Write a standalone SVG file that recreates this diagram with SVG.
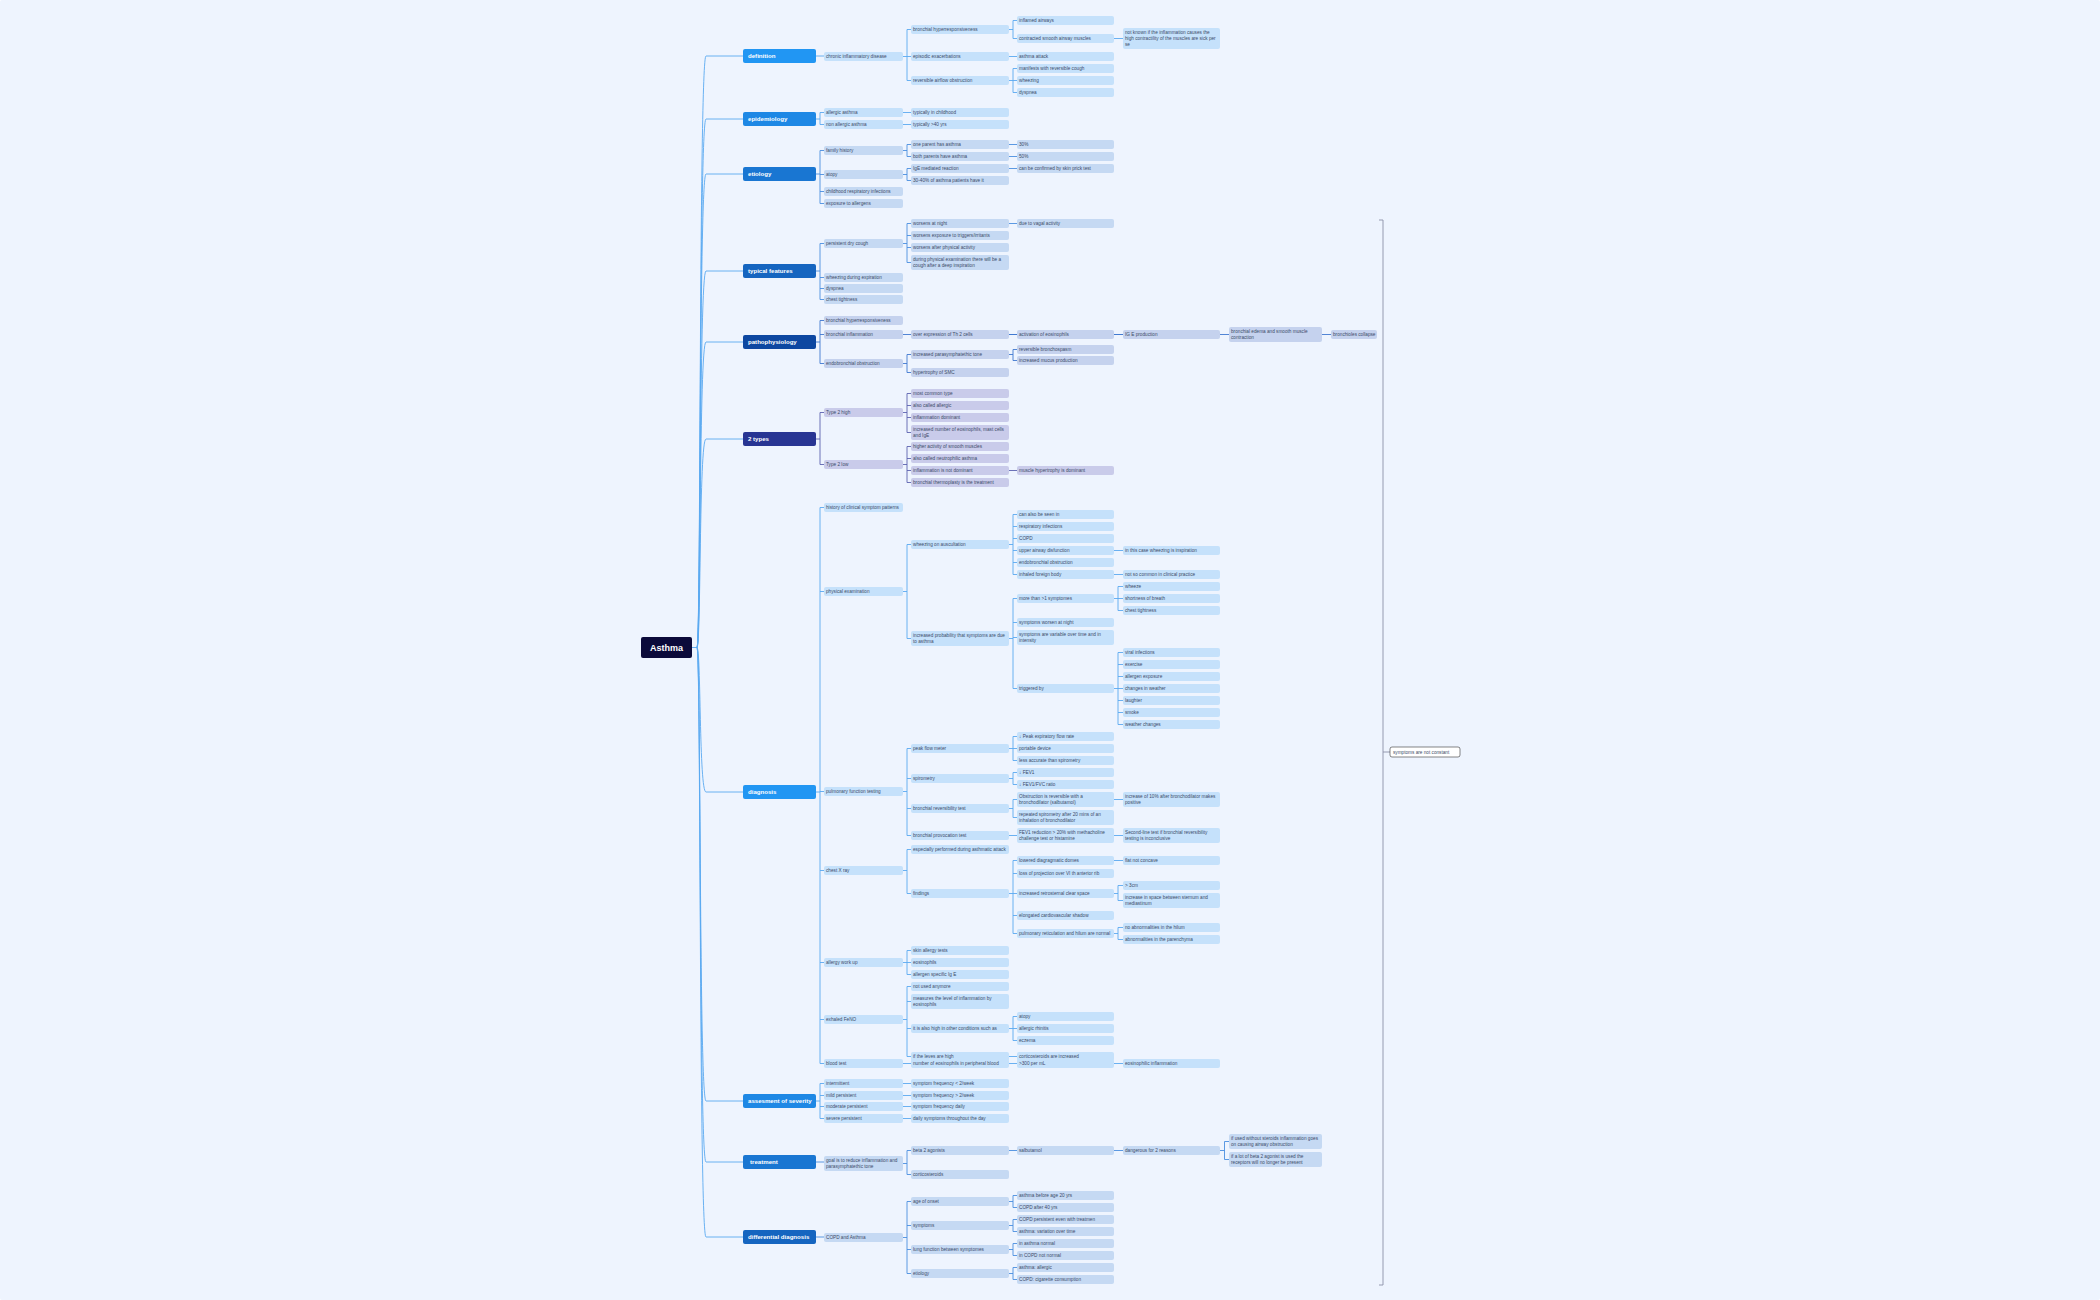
<svg xmlns="http://www.w3.org/2000/svg" width="2100" height="1300" viewBox="0 0 2100 1300">
<style>
text{font-family:"Liberation Sans",Arial,sans-serif;font-size:4.7px;fill:#3b4a68}
.h text,text.h{font-size:6.1px;font-weight:bold;fill:#fff}
rect{rx:2px}
.a{fill:#c5e1fb}.b{fill:#c5d9f3}.c{fill:#c5d2ee}.d{fill:#c9cbea}
path{fill:none;stroke-width:0.9}
.sa{stroke:#5aa9f0}.sb{stroke:#4a8ee0}.sc{stroke:#3f78d0}.sd{stroke:#5c63b0}
</style>
<rect width="2100" height="1300" fill="#eef4fe"/>
<g id="connectors">
<path class="sa" d="M692 647.5H697C701 647.5 699 56 706 56H743M697 647.5C701 647.5 699 119 706 119H743M697 647.5C701 647.5 699 174 706 174H743M697 647.5C701 647.5 699 271 706 271H743M697 647.5C701 647.5 699 342 706 342H743M697 647.5C701 647.5 699 439 706 439H743M697 647.5C701 647.5 699 792 706 792H743M697 647.5C701 647.5 699 1101 706 1101H743M697 647.5C701 647.5 699 1162 706 1162H743M697 647.5C701 647.5 699 1237 706 1237H743"/>
<path class="sa" d="M816 56H824M903 56.5H907M907 29.5V80.5M907 29.5H911M907 56.5H911M907 80.5H911M1009 29.5H1013M1013 20.5V38.5M1013 20.5H1017M1013 38.5H1017M1114 38.5H1123M1009 56.5H1017M1009 80.5H1013M1013 68.5V92.5M1013 68.5H1017M1013 80.5H1017M1013 92.5H1017"/>
<path class="sa" d="M816 119H820M820 112.5V124.5M820 112.5H824M820 124.5H824M903 112.5H911M903 124.5H911"/>
<path class="sb" d="M816 174H820M820 150.5V203.5M820 150.5H824M820 174.5H824M820 191.5H824M820 203.5H824M903 150.5H907M907 144.5V156.5M907 144.5H911M907 156.5H911M1009 144.5H1017M1009 156.5H1017M903 174.5H907M907 168.5V180.5M907 168.5H911M907 180.5H911M1009 168.5H1017"/>
<path class="sb" d="M816 271H820M820 243.5V299.5M820 243.5H824M820 277.5H824M820 288.5H824M820 299.5H824M903 243.5H907M907 223.5V262.5M907 223.5H911M907 235.5H911M907 247.5H911M907 262.5H911M1009 223.5H1017"/>
<path class="sc" d="M816 342H820M820 320.5V363.5M820 320.5H824M820 334.5H824M820 363.5H824M903 334.5H1017M1009 334.5H1123M1114 334.5H1229M1322 334.5H1331M903 363.5H907M907 354.5V372.5M907 354.5H911M907 372.5H911M1009 354.5H1013M1013 349.5V360.5M1013 349.5H1017M1013 360.5H1017"/>
<path class="sd" d="M816 439H820M820 412.5V464.5M820 412.5H824M820 464.5H824M903 412.5H907M907 393.5V432.5M907 393.5H911M907 405.5H911M907 417.5H911M907 432.5H911M903 464.5H907M907 446.5V482.5M907 446.5H911M907 458.5H911M907 470.5H911M907 482.5H911M1009 470.5H1017"/>
<path class="sa" d="M816 792H820M820 507.5V1063.5M820 507.5H824M820 591.5H824M820 791.5H824M820 870.5H824M820 962.5H824M820 1019.5H824M820 1063.5H824
M903 591.5H907M907 544.5V638.5M907 544.5H911M907 638.5H911M1009 544.5H1013M1013 514.5V574.5M1013 514.5H1017M1013 526.5H1017M1013 538.5H1017M1013 550.5H1017M1013 562.5H1017M1013 574.5H1017M1114 550.5H1123M1114 574.5H1123
M1009 638.5H1013M1013 598.5V688.5M1013 598.5H1017M1013 622.5H1017M1013 637.5H1017M1013 688.5H1017M1114 598.5H1118M1118 586.5V610.5M1118 586.5H1123M1118 598.5H1123M1118 610.5H1123M1114 688.5H1118M1118 652.5V724.5M1118 652.5H1123M1118 664.5H1123M1118 676.5H1123M1118 688.5H1123M1118 700.5H1123M1118 712.5H1123M1118 724.5H1123
M903 791.5H907M907 748.5V835.5M907 748.5H911M907 778.5H911M907 808.5H911M907 835.5H911M1009 748.5H1013M1013 736.5V760.5M1013 736.5H1017M1013 748.5H1017M1013 760.5H1017M1009 778.5H1013M1013 772.5V784.5M1013 772.5H1017M1013 784.5H1017M1009 808.5H1013M1013 799.5V817.5M1013 799.5H1017M1013 817.5H1017M1114 799.5H1123M1009 835.5H1017M1114 835.5H1123
M903 870.5H907M907 849.5V893.5M907 849.5H911M907 893.5H911M1009 893.5H1013M1013 860.5V933.5M1013 860.5H1017M1013 873.5H1017M1013 893.5H1017M1013 915.5H1017M1013 933.5H1017M1114 860.5H1123M1114 893.5H1118M1118 885.5V900.5M1118 885.5H1123M1118 900.5H1123M1114 933.5H1118M1118 927.5V939.5M1118 927.5H1123M1118 939.5H1123
M903 962.5H907M907 950.5V974.5M907 950.5H911M907 962.5H911M907 974.5H911
M903 1019.5H907M907 986.5V1056.5M907 986.5H911M907 1001.5H911M907 1028.5H911M907 1056.5H911M1009 1028.5H1013M1013 1016.5V1040.5M1013 1016.5H1017M1013 1028.5H1017M1013 1040.5H1017M1009 1056.5H1017
M903 1063.5H1123"/>
<path class="sa" d="M816 1101H820M820 1083.5V1118.5M820 1083.5H824M820 1095.5H824M820 1106.5H824M820 1118.5H824M903 1083.5H911M903 1095.5H911M903 1106.5H911M903 1118.5H911"/>
<path class="sb" d="M816 1162H824M903 1163.5H907M907 1150.5V1174.5M907 1150.5H911M907 1174.5H911M1009 1150.5H1123M1220 1150.5H1224.5M1224.5 1141.5V1159.5M1224.5 1141.5H1229M1224.5 1159.5H1229"/>
<path class="sb" d="M816 1237H824M903 1237.5H907M907 1201.5V1273.5M907 1201.5H911M907 1225.5H911M907 1249.5H911M907 1273.5H911M1009 1201.5H1013M1013 1195.5V1207.5M1013 1195.5H1017M1013 1207.5H1017M1009 1225.5H1013M1013 1219.5V1231.5M1013 1219.5H1017M1013 1231.5H1017M1009 1249.5H1013M1013 1243.5V1255.5M1013 1243.5H1017M1013 1255.5H1017M1009 1273.5H1013M1013 1267.5V1279.5M1013 1267.5H1017M1013 1279.5H1017"/>
<path stroke="#8a90a8" stroke-width="1.2" d="M1379 220H1383V1285H1379M1383 752H1390"/>
</g>
<g id="root"><rect x="641" y="637" width="51" height="21" fill="#0b0a3a"/><text x="666.5" y="650.5" text-anchor="middle" style="font-size:9px;font-weight:bold;fill:#fff">Asthma</text></g>
<g id="l1" class="h">
<g id="definition"><rect x="743" y="49" width="73" height="14" fill="#2196f3"/><text x="748" y="58.2">definition</text></g>
<g id="epidemiology"><rect x="743" y="112" width="73" height="14" fill="#1e88e5"/><text x="748" y="121.2">epidemiology</text></g>
<g id="etiology"><rect x="743" y="167" width="73" height="14" fill="#1976d2"/><text x="748" y="176.2">etiology</text></g>
<g id="typical"><rect x="743" y="264" width="73" height="14" fill="#1565c0"/><text x="748" y="273.2">typical features</text></g>
<g id="patho"><rect x="743" y="335" width="73" height="14" fill="#0d47a1"/><text x="748" y="344.2">pathophysiology</text></g>
<g id="types"><rect x="743" y="432" width="73" height="14" fill="#283593"/><text x="748" y="441.2">2 types</text></g>
<g id="diagnosis"><rect x="743" y="785" width="73" height="14" fill="#2196f3"/><text x="748" y="794.2">diagnosis</text></g>
<g id="severity"><rect x="743" y="1094" width="73" height="14" fill="#1e88e5"/><text x="748" y="1103.2">assesment of severity</text></g>
<g id="treatment"><rect x="743" y="1155" width="73" height="14" fill="#1976d2"/><text x="750" y="1164.2">treatment</text></g>
<g id="differential"><rect x="743" y="1230" width="73" height="14" fill="#1565c0"/><text x="748" y="1239.2">differential diagnosis</text></g>
</g>
<g id="definition-nodes">
<g id="d1"><rect class="a" x="824" y="52" width="79" height="9"/><text x="826" y="58.2">chronic inflammatory disease</text></g>
<g id="d2"><rect class="a" x="911" y="25" width="98" height="9"/><text x="913" y="31.2">bronchial hyperresponsiveness</text></g>
<g id="d3"><rect class="a" x="911" y="52" width="98" height="9"/><text x="913" y="58.2">episodic exacerbations</text></g>
<g id="d4"><rect class="a" x="911" y="76" width="98" height="9"/><text x="913" y="82.2">reversible airflow obstruction</text></g>
<g id="d5"><rect class="a" x="1017" y="16" width="97" height="9"/><text x="1019" y="22.2">inflamed airways</text></g>
<g id="d6"><rect class="a" x="1017" y="34" width="97" height="9"/><text x="1019" y="40.2">contracted smooth airway muscles</text></g>
<g id="d7"><rect class="a" x="1123" y="28" width="97" height="21"/><text x="1125" y="33.8">not known if the inflammation causes the<tspan x="1125" y="39.8">high contractility of the muscles are sick per</tspan><tspan x="1125" y="45.8">se</tspan></text></g>
<g id="d8"><rect class="a" x="1017" y="52" width="97" height="9"/><text x="1019" y="58.2">asthma attack</text></g>
<g id="d9"><rect class="a" x="1017" y="64" width="97" height="9"/><text x="1019" y="70.2">manifests with reversible cough</text></g>
<g id="d10"><rect class="a" x="1017" y="76" width="97" height="9"/><text x="1019" y="82.2">wheezing</text></g>
<g id="d11"><rect class="a" x="1017" y="88" width="97" height="9"/><text x="1019" y="94.2">dyspnea</text></g>
</g>
<g id="epi-nodes">
<g id="e1"><rect class="a" x="824" y="108" width="79" height="9"/><text x="826" y="114.2">allergic asthma</text></g>
<g id="e2"><rect class="a" x="824" y="120" width="79" height="9"/><text x="826" y="126.2">non allergic asthma</text></g>
<g id="e3"><rect class="a" x="911" y="108" width="98" height="9"/><text x="913" y="114.2">typically in childhood</text></g>
<g id="e4"><rect class="a" x="911" y="120" width="98" height="9"/><text x="913" y="126.2">typically &gt;40 yrs</text></g>
</g>
<g id="etio-nodes">
<g id="t1"><rect class="b" x="824" y="146" width="79" height="9"/><text x="826" y="152.2">family history</text></g>
<g id="t2"><rect class="b" x="824" y="170" width="79" height="9"/><text x="826" y="176.2">atopy</text></g>
<g id="t3"><rect class="b" x="824" y="187" width="79" height="9"/><text x="826" y="193.2">childhood respiratory infections</text></g>
<g id="t4"><rect class="b" x="824" y="199" width="79" height="9"/><text x="826" y="205.2">exposure to allergens</text></g>
<g id="t5"><rect class="b" x="911" y="140" width="98" height="9"/><text x="913" y="146.2">one parent has asthma</text></g>
<g id="t6"><rect class="b" x="911" y="152" width="98" height="9"/><text x="913" y="158.2">both parents have asthma</text></g>
<g id="t7"><rect class="b" x="911" y="164" width="98" height="9"/><text x="913" y="170.2">IgE mediated reaction</text></g>
<g id="t8"><rect class="b" x="911" y="176" width="98" height="9"/><text x="913" y="182.2">30-40% of asthma patients have it</text></g>
<g id="t9"><rect class="b" x="1017" y="140" width="97" height="9"/><text x="1019" y="146.2">30%</text></g>
<g id="t10"><rect class="b" x="1017" y="152" width="97" height="9"/><text x="1019" y="158.2">50%</text></g>
<g id="t11"><rect class="b" x="1017" y="164" width="97" height="9"/><text x="1019" y="170.2">can be confirmed by skin prick test</text></g>
</g>
<g id="typ-nodes">
<g id="f1"><rect class="b" x="824" y="239" width="79" height="9"/><text x="826" y="245.2">persistent dry cough</text></g>
<g id="f2"><rect class="b" x="824" y="273" width="79" height="9"/><text x="826" y="279.2">wheezing during expiration</text></g>
<g id="f3"><rect class="b" x="824" y="284" width="79" height="9"/><text x="826" y="290.2">dyspnea</text></g>
<g id="f4"><rect class="b" x="824" y="295" width="79" height="9"/><text x="826" y="301.2">chest tightness</text></g>
<g id="f5"><rect class="b" x="911" y="219" width="98" height="9"/><text x="913" y="225.2">worsens at night</text></g>
<g id="f6"><rect class="b" x="911" y="231" width="98" height="9"/><text x="913" y="237.2">worsens exposure to triggers/irritants</text></g>
<g id="f7"><rect class="b" x="911" y="243" width="98" height="9"/><text x="913" y="249.2">worsens after physical activity</text></g>
<g id="f8"><rect class="b" x="911" y="255" width="98" height="15"/><text x="913" y="260.8">during physical examination there will be a<tspan x="913" y="266.8">cough after a deep inspiration</tspan></text></g>
<g id="f9"><rect class="b" x="1017" y="219" width="97" height="9"/><text x="1019" y="225.2">due to vagal activity</text></g>
</g>
<g id="patho-nodes">
<g id="p1"><rect class="c" x="824" y="316" width="79" height="9"/><text x="826" y="322.2">bronchial hyperresponsiveness</text></g>
<g id="p2"><rect class="c" x="824" y="330" width="79" height="9"/><text x="826" y="336.2">bronchial inflammation</text></g>
<g id="p3"><rect class="c" x="824" y="359" width="79" height="9"/><text x="826" y="365.2">endobronchial obstruction</text></g>
<g id="p4"><rect class="c" x="911" y="330" width="98" height="9"/><text x="913" y="336.2">over expression of Th 2 cells</text></g>
<g id="p5"><rect class="c" x="1017" y="330" width="97" height="9"/><text x="1019" y="336.2">activation of eosinophils</text></g>
<g id="p6"><rect class="c" x="1123" y="330" width="97" height="9"/><text x="1125" y="336.2">IG E production</text></g>
<g id="p7"><rect class="c" x="1229" y="327" width="93" height="15"/><text x="1231" y="332.8">bronchial edema and smooth muscle<tspan x="1231" y="338.8">contraction</tspan></text></g>
<g id="p8"><rect class="c" x="1331" y="330" width="46" height="9"/><text x="1333" y="336.2">bronchioles collapse</text></g>
<g id="p9"><rect class="c" x="911" y="350" width="98" height="9"/><text x="913" y="356.2">increased parasymphatethic tone</text></g>
<g id="p10"><rect class="c" x="911" y="368" width="98" height="9"/><text x="913" y="374.2">hypertrophy of SMC</text></g>
<g id="p11"><rect class="c" x="1017" y="345" width="97" height="9"/><text x="1019" y="351.2">reversible bronchospasm</text></g>
<g id="p12"><rect class="c" x="1017" y="356" width="97" height="9"/><text x="1019" y="362.2">increased mucus production</text></g>
</g>
<g id="types-nodes">
<g id="y1"><rect class="d" x="824" y="408" width="79" height="9"/><text x="826" y="414.2">Type 2 high</text></g>
<g id="y2"><rect class="d" x="824" y="460" width="79" height="9"/><text x="826" y="466.2">Type 2 low</text></g>
<g id="y3"><rect class="d" x="911" y="389" width="98" height="9"/><text x="913" y="395.2">most common type</text></g>
<g id="y4"><rect class="d" x="911" y="401" width="98" height="9"/><text x="913" y="407.2">also called allergic</text></g>
<g id="y5"><rect class="d" x="911" y="413" width="98" height="9"/><text x="913" y="419.2">inflammation dominant</text></g>
<g id="y6"><rect class="d" x="911" y="425" width="98" height="15"/><text x="913" y="430.8">increased number of eosinophils, mast cells<tspan x="913" y="436.8">and IgE</tspan></text></g>
<g id="y7"><rect class="d" x="911" y="442" width="98" height="9"/><text x="913" y="448.2">higher activity of smooth muscles</text></g>
<g id="y8"><rect class="d" x="911" y="454" width="98" height="9"/><text x="913" y="460.2">also called neutrophilic asthma</text></g>
<g id="y9"><rect class="d" x="911" y="466" width="98" height="9"/><text x="913" y="472.2">inflammation is not dominant</text></g>
<g id="y10"><rect class="d" x="911" y="478" width="98" height="9"/><text x="913" y="484.2">bronchial thermoplasty is the treatment</text></g>
<g id="y11"><rect class="d" x="1017" y="466" width="97" height="9"/><text x="1019" y="472.2">muscle hypertrophy is dominant</text></g>
</g>
<g id="diag-nodes">
<g id="g1"><rect class="a" x="824" y="503" width="79" height="9"/><text x="826" y="509.2">history of clinical symptom patterns</text></g>
<g id="g2"><rect class="a" x="824" y="587" width="79" height="9"/><text x="826" y="593.2">physical examination</text></g>
<g id="g3"><rect class="a" x="824" y="787" width="79" height="9"/><text x="826" y="793.2">pulmonary function testing</text></g>
<g id="g4"><rect class="a" x="824" y="866" width="79" height="9"/><text x="826" y="872.2">chest X ray</text></g>
<g id="g5"><rect class="a" x="824" y="958" width="79" height="9"/><text x="826" y="964.2">allergy work up</text></g>
<g id="g6"><rect class="a" x="824" y="1015" width="79" height="9"/><text x="826" y="1021.2">exhaled FeNO</text></g>
<g id="g7"><rect class="a" x="824" y="1059" width="79" height="9"/><text x="826" y="1065.2">blood test</text></g>
<g id="g8"><rect class="a" x="911" y="540" width="98" height="9"/><text x="913" y="546.2">wheezing on auscultation</text></g>
<g id="g9"><rect class="a" x="911" y="631" width="98" height="15"/><text x="913" y="636.8">increased probability that symptoms are due<tspan x="913" y="642.8">to asthma</tspan></text></g>
<g id="g10"><rect class="a" x="1017" y="510" width="97" height="9"/><text x="1019" y="516.2">can also be seen in</text></g>
<g id="g11"><rect class="a" x="1017" y="522" width="97" height="9"/><text x="1019" y="528.2">respiratory infections</text></g>
<g id="g12"><rect class="a" x="1017" y="534" width="97" height="9"/><text x="1019" y="540.2">COPD</text></g>
<g id="g13"><rect class="a" x="1017" y="546" width="97" height="9"/><text x="1019" y="552.2">upper airway disfunction</text></g>
<g id="g14"><rect class="a" x="1017" y="558" width="97" height="9"/><text x="1019" y="564.2">endobronchial obstruction</text></g>
<g id="g15"><rect class="a" x="1017" y="570" width="97" height="9"/><text x="1019" y="576.2">inhaled foreign body</text></g>
<g id="g16"><rect class="a" x="1123" y="546" width="97" height="9"/><text x="1125" y="552.2">in this case wheezing is inspiration</text></g>
<g id="g17"><rect class="a" x="1123" y="570" width="97" height="9"/><text x="1125" y="576.2">not so common in clinical practice</text></g>
<g id="g18"><rect class="a" x="1017" y="594" width="97" height="9"/><text x="1019" y="600.2">more than &gt;1 symptomes</text></g>
<g id="g19"><rect class="a" x="1017" y="618" width="97" height="9"/><text x="1019" y="624.2">symptoms worsen at night</text></g>
<g id="g20"><rect class="a" x="1017" y="630" width="97" height="15"/><text x="1019" y="635.8">symptoms are variable over time and in<tspan x="1019" y="641.8">intensity</tspan></text></g>
<g id="g21"><rect class="a" x="1017" y="684" width="97" height="9"/><text x="1019" y="690.2">triggered by</text></g>
<g id="g22"><rect class="a" x="1123" y="582" width="97" height="9"/><text x="1125" y="588.2">wheeze</text></g>
<g id="g23"><rect class="a" x="1123" y="594" width="97" height="9"/><text x="1125" y="600.2">shortness of breath</text></g>
<g id="g24"><rect class="a" x="1123" y="606" width="97" height="9"/><text x="1125" y="612.2">chest tightness</text></g>
<g id="g25"><rect class="a" x="1123" y="648" width="97" height="9"/><text x="1125" y="654.2">viral infections</text></g>
<g id="g26"><rect class="a" x="1123" y="660" width="97" height="9"/><text x="1125" y="666.2">exercise</text></g>
<g id="g27"><rect class="a" x="1123" y="672" width="97" height="9"/><text x="1125" y="678.2">allergen exposure</text></g>
<g id="g28"><rect class="a" x="1123" y="684" width="97" height="9"/><text x="1125" y="690.2">changes in weather</text></g>
<g id="g29"><rect class="a" x="1123" y="696" width="97" height="9"/><text x="1125" y="702.2">laughter</text></g>
<g id="g30"><rect class="a" x="1123" y="708" width="97" height="9"/><text x="1125" y="714.2">smoke</text></g>
<g id="g31"><rect class="a" x="1123" y="720" width="97" height="9"/><text x="1125" y="726.2">weather changes</text></g>
<g id="g32"><rect class="a" x="911" y="744" width="98" height="9"/><text x="913" y="750.2">peak flow meter</text></g>
<g id="g33"><rect class="a" x="911" y="774" width="98" height="9"/><text x="913" y="780.2">spirometry</text></g>
<g id="g34"><rect class="a" x="911" y="804" width="98" height="9"/><text x="913" y="810.2">bronchial reversibility test</text></g>
<g id="g35"><rect class="a" x="911" y="831" width="98" height="9"/><text x="913" y="837.2">bronchial provocation test</text></g>
<g id="g36"><rect class="a" x="1017" y="732" width="97" height="9"/><text x="1019" y="738.2">↓ Peak expiratory flow rate</text></g>
<g id="g37"><rect class="a" x="1017" y="744" width="97" height="9"/><text x="1019" y="750.2">portable device</text></g>
<g id="g38"><rect class="a" x="1017" y="756" width="97" height="9"/><text x="1019" y="762.2">less accurate than spirometry</text></g>
<g id="g39"><rect class="a" x="1017" y="768" width="97" height="9"/><text x="1019" y="774.2">↓ FEV1</text></g>
<g id="g40"><rect class="a" x="1017" y="780" width="97" height="9"/><text x="1019" y="786.2">↓ FEV1/FVC ratio</text></g>
<g id="g41"><rect class="a" x="1017" y="792" width="97" height="15"/><text x="1019" y="797.8">Obstruction is reversible with a<tspan x="1019" y="803.8">bronchodilator (salbutamol)</tspan></text></g>
<g id="g42"><rect class="a" x="1017" y="810" width="97" height="15"/><text x="1019" y="815.8">repeated spirometry after 20 mins of an<tspan x="1019" y="821.8">inhalation of bronchodilator</tspan></text></g>
<g id="g43"><rect class="a" x="1017" y="828" width="97" height="15"/><text x="1019" y="833.8">FEV1 reduction &gt; 20% with methacholine<tspan x="1019" y="839.8">challenge test or histamine</tspan></text></g>
<g id="g44"><rect class="a" x="1123" y="792" width="97" height="15"/><text x="1125" y="797.8">increase of 10% after bronchodilator makes<tspan x="1125" y="803.8">positive</tspan></text></g>
<g id="g45"><rect class="a" x="1123" y="828" width="97" height="15"/><text x="1125" y="833.8">Second-line test if bronchial reversibility<tspan x="1125" y="839.8">testing is inconclusive</tspan></text></g>
<g id="g46"><rect class="a" x="911" y="845" width="98" height="9"/><text x="913" y="851.2">especially performed during asthmatic attack</text></g>
<g id="g47"><rect class="a" x="911" y="889" width="98" height="9"/><text x="913" y="895.2">findings</text></g>
<g id="g48"><rect class="a" x="1017" y="856" width="97" height="9"/><text x="1019" y="862.2">lowered diagragmatic domes</text></g>
<g id="g49"><rect class="a" x="1017" y="869" width="97" height="9"/><text x="1019" y="875.2">loss of projection over VI th anterior rib</text></g>
<g id="g50"><rect class="a" x="1017" y="889" width="97" height="9"/><text x="1019" y="895.2">increased retrosternal clear space</text></g>
<g id="g51"><rect class="a" x="1017" y="911" width="97" height="9"/><text x="1019" y="917.2">elongated cardiovascular shadow</text></g>
<g id="g52"><rect class="a" x="1017" y="929" width="97" height="9"/><text x="1019" y="935.2">pulmonary reticulation and hilum are normal</text></g>
<g id="g53"><rect class="a" x="1123" y="856" width="97" height="9"/><text x="1125" y="862.2">flat not concave</text></g>
<g id="g54"><rect class="a" x="1123" y="881" width="97" height="9"/><text x="1125" y="887.2">&gt; 3cm</text></g>
<g id="g55"><rect class="a" x="1123" y="893" width="97" height="15"/><text x="1125" y="898.8">increase in space between sternum and<tspan x="1125" y="904.8">mediastinum</tspan></text></g>
<g id="g56"><rect class="a" x="1123" y="923" width="97" height="9"/><text x="1125" y="929.2">no abnormalities in the hilum</text></g>
<g id="g57"><rect class="a" x="1123" y="935" width="97" height="9"/><text x="1125" y="941.2">abnormalities in the parenchyma</text></g>
<g id="g58"><rect class="a" x="911" y="946" width="98" height="9"/><text x="913" y="952.2">skin allergy tests</text></g>
<g id="g59"><rect class="a" x="911" y="958" width="98" height="9"/><text x="913" y="964.2">eosinophils</text></g>
<g id="g60"><rect class="a" x="911" y="970" width="98" height="9"/><text x="913" y="976.2">allergen specific Ig E</text></g>
<g id="g61"><rect class="a" x="911" y="982" width="98" height="9"/><text x="913" y="988.2">not used anymore</text></g>
<g id="g62"><rect class="a" x="911" y="994" width="98" height="15"/><text x="913" y="999.8">measures the level of inflammation by<tspan x="913" y="1005.8">eosinophils</tspan></text></g>
<g id="g63"><rect class="a" x="911" y="1024" width="98" height="9"/><text x="913" y="1030.2">it is also high in other conditions such as</text></g>
<g id="g64"><rect class="a" x="911" y="1052" width="98" height="9"/><text x="913" y="1058.2">if the leves are high</text></g>
<g id="g65"><rect class="a" x="1017" y="1012" width="97" height="9"/><text x="1019" y="1018.2">atopy</text></g>
<g id="g66"><rect class="a" x="1017" y="1024" width="97" height="9"/><text x="1019" y="1030.2">allergic rhinitis</text></g>
<g id="g67"><rect class="a" x="1017" y="1036" width="97" height="9"/><text x="1019" y="1042.2">eczema</text></g>
<g id="g68"><rect class="a" x="1017" y="1052" width="97" height="9"/><text x="1019" y="1058.2">corticosteroids are increased</text></g>
<g id="g69"><rect class="a" x="911" y="1059" width="98" height="9"/><text x="913" y="1065.2">number of eosinophils in peripheral blood</text></g>
<g id="g70"><rect class="a" x="1017" y="1059" width="97" height="9"/><text x="1019" y="1065.2">&gt;300 per mL</text></g>
<g id="g71"><rect class="a" x="1123" y="1059" width="97" height="9"/><text x="1125" y="1065.2">eosinophilic inflammation</text></g>
</g>
<g id="sev-nodes">
<g id="s1"><rect class="a" x="824" y="1079" width="79" height="9"/><text x="826" y="1085.2">intermittent</text></g>
<g id="s2"><rect class="a" x="824" y="1091" width="79" height="9"/><text x="826" y="1097.2">mild persistent</text></g>
<g id="s3"><rect class="a" x="824" y="1102" width="79" height="9"/><text x="826" y="1108.2">moderate persistent</text></g>
<g id="s4"><rect class="a" x="824" y="1114" width="79" height="9"/><text x="826" y="1120.2">severe persistent</text></g>
<g id="s5"><rect class="a" x="911" y="1079" width="98" height="9"/><text x="913" y="1085.2">symptom frequency &lt; 2/week</text></g>
<g id="s6"><rect class="a" x="911" y="1091" width="98" height="9"/><text x="913" y="1097.2"> symptom frequency &gt; 2/week</text></g>
<g id="s7"><rect class="a" x="911" y="1102" width="98" height="9"/><text x="913" y="1108.2"> symptom frequency daily</text></g>
<g id="s8"><rect class="a" x="911" y="1114" width="98" height="9"/><text x="913" y="1120.2">daily symptoms throughout the day</text></g>
</g>
<g id="treat-nodes">
<g id="r1"><rect class="b" x="824" y="1156" width="79" height="15"/><text x="826" y="1161.8">goal is to reduce inflammation and<tspan x="826" y="1167.8">parasymphatethic tone</tspan></text></g>
<g id="r2"><rect class="b" x="911" y="1146" width="98" height="9"/><text x="913" y="1152.2">beta 2 agonists</text></g>
<g id="r3"><rect class="b" x="911" y="1170" width="98" height="9"/><text x="913" y="1176.2">corticosteroids</text></g>
<g id="r4"><rect class="b" x="1017" y="1146" width="97" height="9"/><text x="1019" y="1152.2">salbutamol</text></g>
<g id="r5"><rect class="b" x="1123" y="1146" width="97" height="9"/><text x="1125" y="1152.2">dangerous for 2 reasons</text></g>
<g id="r6"><rect class="b" x="1229" y="1134" width="93" height="15"/><text x="1231" y="1139.8">if used without steroids inflammation goes<tspan x="1231" y="1145.8">on causing airway obstruction</tspan></text></g>
<g id="r7"><rect class="b" x="1229" y="1152" width="93" height="15"/><text x="1231" y="1157.8">if a lot of beta 2 agonist is used the<tspan x="1231" y="1163.8">receptors will no longer be present</tspan></text></g>
</g>
<g id="diff-nodes">
<g id="x1"><rect class="b" x="824" y="1233" width="79" height="9"/><text x="826" y="1239.2">COPD and Asthma</text></g>
<g id="x2"><rect class="b" x="911" y="1197" width="98" height="9"/><text x="913" y="1203.2">age of onset</text></g>
<g id="x3"><rect class="b" x="911" y="1221" width="98" height="9"/><text x="913" y="1227.2">symptoms</text></g>
<g id="x4"><rect class="b" x="911" y="1245" width="98" height="9"/><text x="913" y="1251.2">lung function between symptomes</text></g>
<g id="x5"><rect class="b" x="911" y="1269" width="98" height="9"/><text x="913" y="1275.2">etiology</text></g>
<g id="x6"><rect class="b" x="1017" y="1191" width="97" height="9"/><text x="1019" y="1197.2">asthma before age 20 yrs</text></g>
<g id="x7"><rect class="b" x="1017" y="1203" width="97" height="9"/><text x="1019" y="1209.2">COPD after 40 yrs</text></g>
<g id="x8"><rect class="b" x="1017" y="1215" width="97" height="9"/><text x="1019" y="1221.2">COPD persistent even with treatmen</text></g>
<g id="x9"><rect class="b" x="1017" y="1227" width="97" height="9"/><text x="1019" y="1233.2">asthma: variation over time</text></g>
<g id="x10"><rect class="b" x="1017" y="1239" width="97" height="9"/><text x="1019" y="1245.2">in asthma normal</text></g>
<g id="x11"><rect class="b" x="1017" y="1251" width="97" height="9"/><text x="1019" y="1257.2">in COPD not normal</text></g>
<g id="x12"><rect class="b" x="1017" y="1263" width="97" height="9"/><text x="1019" y="1269.2">asthma: allergic</text></g>
<g id="x13"><rect class="b" x="1017" y="1275" width="97" height="9"/><text x="1019" y="1281.2">COPD: cigarette consumption</text></g>
</g>
<g id="summary"><rect x="1390" y="747" width="70" height="10" fill="#fff" stroke="#333" stroke-width="0.6"/><text x="1393" y="753.6">symptoms are not constant</text></g>
</svg>
